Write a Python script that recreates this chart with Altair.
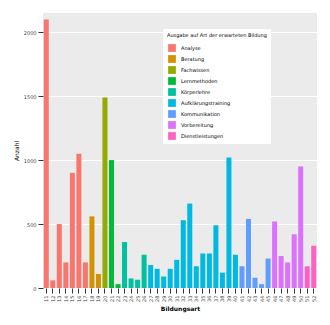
import altair as alt
import pandas as pd

group_names = ["Analyse", "Beratung", "Fachwissen", "Lernmethoden", "Körperlehre",
               "Aufklärungstraining", "Kommunikation", "Vorbereitung", "Dienstleistungen"]
group_colors = ["#F8766D", "#D39200", "#93AA00", "#00BA38", "#00C19F",
                "#00B9E3", "#619CFF", "#DB72FB", "#FF61C3"]
group_counts = [7, 2, 1, 2, 4, 14, 5, 5, 2]

values = [2100, 60, 500, 200, 900, 1050, 200,
          560, 110,
          1490,
          1000, 30,
          360, 75, 65, 260,
          180, 150, 90, 150, 220, 530, 660, 170, 270, 270, 490, 120, 1020, 260,
          170, 540, 80, 30, 230,
          520, 250, 200, 420, 950,
          170, 330]

codes = [str(11 + i) for i in range(len(values))]

groups = []
for name, n in zip(group_names, group_counts):
    groups += [name] * n

df = pd.DataFrame({"Code": codes, "Anzahl": values, "Gruppe": groups})

chart = alt.Chart(df).mark_bar(size=5).encode(
    x=alt.X("Code:N", sort=codes, title="Bildungsart",
            axis=alt.Axis(labelAngle=-90, labelFontSize=5, titleFontSize=6,
                          tickColor="#333", domain=False, labelColor="#444")),
    y=alt.Y("Anzahl:Q", title="Anzahl", scale=alt.Scale(domain=[0, 2150], nice=False),
            axis=alt.Axis(values=[0, 500, 1000, 1500, 2000], format="d", labelFontSize=5,
                          titleFontSize=6, titleFontWeight="normal", gridColor="white",
                          domain=False, labelColor="#444", tickColor="#333")),
    color=alt.Color("Gruppe:N", sort=group_names,
                    scale=alt.Scale(domain=group_names, range=group_colors),
                    legend=alt.Legend(title="Ausgabe auf Art der erwarteten Bildung",
                                      orient="none", legendX=120, legendY=16,
                                      titleFontSize=5, labelFontSize=5,
                                      symbolType="square", symbolSize=60,
                                      fillColor="white", padding=4,
                                      titleFontWeight="normal")),
).properties(
    width=314, height=309,
    autosize=alt.AutoSizeParams(type="fit", contains="padding"),
    background="white",
).configure_view(
    fill="#EBEBEB", stroke=None
).configure_axis(
    labelFont="DejaVu Sans", titleFont="DejaVu Sans"
).configure_legend(
    labelFont="DejaVu Sans", titleFont="DejaVu Sans"
)

chart.save("out.html", embed_options={"renderer": "svg", "actions": False})
